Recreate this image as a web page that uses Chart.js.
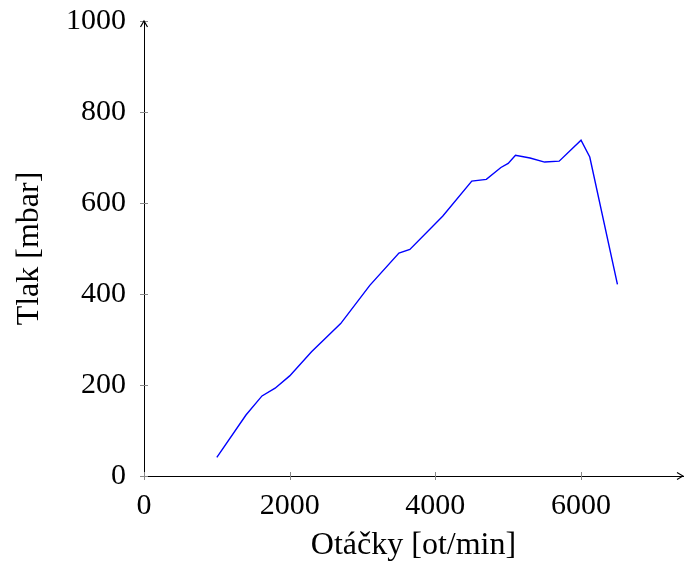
<!DOCTYPE html>
<html lang="cs">
  <head>
    <meta charset="UTF-8" />
    <title>Tlak vs otáčky</title>
    <script src="https://cdn.jsdelivr.net/npm/chart.js@4.4.0/dist/chart.umd.min.js"></script>
    <style>
      html, body { margin: 0; padding: 0; background: #fff; }
      #chart { display: block; }
    </style>
  </head>
  <body>
    <canvas id="chart" width="684" height="565"></canvas>
    <script>
      // otacky [ot/min]
      const rpm = [1000, 1400, 1620, 1800, 2000, 2300, 2700, 3100, 3500, 3650, 4100,
        4500, 4700, 4900, 5000, 5100, 5300, 5500, 5700, 6000, 6120, 6500];
      // tlak [mbar]
      const pressure = [41, 134, 176, 193, 220, 273, 335, 419, 490, 498, 571,
        648, 652, 678, 687, 705, 699, 690, 692, 738, 701, 421];

      const xTicks = [0, 2000, 4000, 6000];
      const yTicks = [0, 200, 400, 600, 800, 1000];

      const xTitle = "Otáčky [ot/min]";
      const yTitle = "Tlak [mbar]";

      const tickFont = { family: "'Liberation Serif', serif", size: 30 };
      const titleFont = { family: "'Liberation Serif', serif", size: 32 };

      // pgfplots style: ticks on both sides + arrow heads on axis ends
      const axisDeco = {
        id: "axisDeco",
        afterDraw(chart) {
          const ctx = chart.ctx;
          const x = chart.scales.x, y = chart.scales.y;
          const a = chart.chartArea;
          ctx.save();
          ctx.strokeStyle = "#888";
          ctx.lineWidth = 1;
          x.ticks.forEach((t) => {
            const px = Math.round(x.getPixelForValue(t.value)) + 0.5;
            ctx.beginPath();
            ctx.moveTo(px, a.bottom - 4);
            ctx.lineTo(px, a.bottom + 4);
            ctx.stroke();
          });
          y.ticks.forEach((t) => {
            const py = Math.round(y.getPixelForValue(t.value)) + 0.5;
            ctx.beginPath();
            ctx.moveTo(a.left - 4, py);
            ctx.lineTo(a.left + 4, py);
            ctx.stroke();
          });
          ctx.strokeStyle = "#000";
          ctx.lineWidth = 1.2;
          ctx.beginPath();
          ctx.moveTo(a.right - 6, a.bottom - 3.5);
          ctx.lineTo(a.right, a.bottom);
          ctx.lineTo(a.right - 6, a.bottom + 3.5);
          ctx.stroke();
          ctx.beginPath();
          ctx.moveTo(a.left - 3.5, a.top + 6);
          ctx.lineTo(a.left, a.top);
          ctx.lineTo(a.left + 3.5, a.top + 6);
          ctx.stroke();
          ctx.restore();
        },
      };

      new Chart(document.getElementById("chart"), {
        type: "scatter",
        data: {
          datasets: [
            {
              data: rpm.map((v, i) => ({ x: v, y: pressure[i] })),
              showLine: true,
              borderColor: "#0000ff",
              borderWidth: 1.4,
              pointRadius: 0,
              tension: 0,
            },
          ],
        },
        options: {
          responsive: false,
          animation: false,
          layout: { padding: { top: 21, right: 1, bottom: 0, left: 0 } },
          plugins: { legend: { display: false }, tooltip: { enabled: false } },
          scales: {
            x: {
              type: "linear",
              min: 0,
              max: 7400,
              afterBuildTicks: (s) => {
                s.ticks = xTicks.map((v) => ({ value: v }));
              },
              afterFit: (s) => {
                s.height = 89;
                s.paddingLeft = 0;
                s.paddingRight = 0;
              },
              ticks: {
                color: "#000", font: tickFont, padding: 12, maxRotation: 0, autoSkip: false,
                callback: (v) => String(v),
              },
              grid: { display: true, drawOnChartArea: false, drawTicks: false },
              border: { color: "#000", width: 1 },
              title: { display: true, text: xTitle, color: "#000", font: titleFont, padding: 0 },
            },
            y: {
              min: 0,
              max: 1000,
              afterBuildTicks: (s) => {
                s.ticks = yTicks.map((v) => ({ value: v }));
              },
              afterFit: (s) => {
                s.width = 144;
                s.paddingTop = 0;
                s.paddingBottom = 0;
              },
              ticks: {
                color: "#000", font: tickFont, padding: 18, autoSkip: false,
                callback: (v) => String(v),
              },
              grid: { display: true, drawOnChartArea: false, drawTicks: false },
              border: { color: "#000", width: 1 },
              title: { display: true, text: yTitle, color: "#000", font: titleFont, padding: { top: 10, bottom: 0 } },
            },
          },
        },
        plugins: [axisDeco],
      });
    </script>
  </body>
</html>
